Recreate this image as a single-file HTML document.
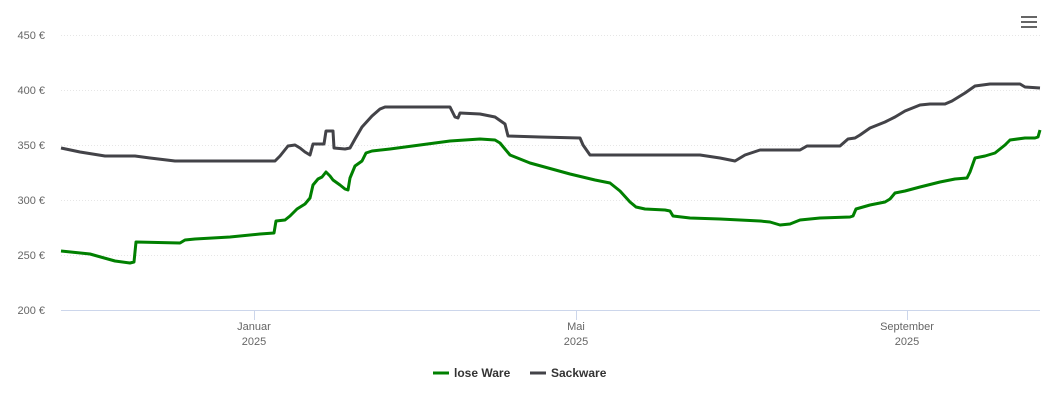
<!DOCTYPE html>
<html><head><style>
body{margin:0;background:#fff;font-family:"Liberation Sans",sans-serif}
svg text{font-family:"Liberation Sans",sans-serif}
</style></head><body>
<svg width="1050" height="400" viewBox="0 0 1050 400" xmlns="http://www.w3.org/2000/svg">
<g stroke="#e6e6e6" stroke-dasharray="1,2" stroke-width="1">
<line x1="61" x2="1040" y1="35.5" y2="35.5"/>
<line x1="61" x2="1040" y1="90.5" y2="90.5"/>
<line x1="61" x2="1040" y1="145.5" y2="145.5"/>
<line x1="61" x2="1040" y1="200.5" y2="200.5"/>
<line x1="61" x2="1040" y1="255.5" y2="255.5"/>
</g>
<line x1="61" x2="1040" y1="310.5" y2="310.5" stroke="#ccd6eb"/>
<g stroke="#ccd6eb"><line x1="254.5" x2="254.5" y1="310" y2="320"/><line x1="576.5" x2="576.5" y1="310" y2="320"/><line x1="907.5" x2="907.5" y1="310" y2="320"/></g>
<g fill="#666" font-size="11" text-anchor="end">
<text x="45" y="39">450 €</text><text x="45" y="94">400 €</text><text x="45" y="149">350 €</text>
<text x="45" y="204">300 €</text><text x="45" y="259">250 €</text><text x="45" y="314">200 €</text>
</g>
<g fill="#666" font-size="11" text-anchor="middle">
<text x="254" y="330">Januar</text><text x="254" y="345">2025</text>
<text x="576" y="330">Mai</text><text x="576" y="345">2025</text>
<text x="907" y="330">September</text><text x="907" y="345">2025</text>
</g>
<polyline fill="none" stroke="#434348" stroke-width="3" stroke-linejoin="round" points="61,148 80,152 105,156 135,156 150,158 175,161 275,161 280,156 288,146 295,145 300,148 305,152 310,155 313,144 320,144 324,144 326,131 333,131 334,148 345,149 350,148 355,139 362,127 372,116 380,109 385,107 400,107 450,107 455,117 458,118 460,113 480,114 495,117 505,124 508,136 540,137 580,138 583,145 590,155 700,155 720,158 735,161 745,155 760,150 770,150 800,150 807,146 840,146 848,139 855,138 860,135 870,128 885,122 895,117 905,111 920,105 930,104 945,104 952,101 965,93 975,86 990,84 1020,84 1025,87 1040,88"/>
<polyline fill="none" stroke="#008000" stroke-width="3" stroke-linejoin="round" points="61,251 90,254 115,261 130,263 134,262 136,242 180,243 185,240 195,239 230,237 260,234 274,233 276,221 285,220 290,216 297,209 305,204 310,198 313,185 318,179 322,177 326,172 330,176 333,180 340,185 345,189 348,190 350,178 355,166 362,161 366,153 372,151 390,149 420,145 450,141 480,139 495,140 500,143 510,155 530,163 570,174 595,180 610,183 620,191 630,202 636,207 645,209 665,210 670,211 673,216 690,218 720,219 760,221 770,222 780,225 790,224 800,220 820,218 850,217 853,216 856,209 870,205 885,202 890,199 895,193 905,191 920,187 940,182 955,179 967,178 970,172 975,158 985,156 995,153 1005,145 1010,140 1025,138 1035,138 1038,137 1040,130"/>
<g stroke="#666" stroke-width="2"><line x1="1021" x2="1037" y1="17" y2="17"/><line x1="1021" x2="1037" y1="22" y2="22"/><line x1="1021" x2="1037" y1="27" y2="27"/></g>
<line x1="433" x2="449" y1="373" y2="373" stroke="#008000" stroke-width="3"/>
<text x="454" y="377" font-size="12" font-weight="bold" fill="#333">lose Ware</text>
<line x1="530" x2="546" y1="373" y2="373" stroke="#434348" stroke-width="3"/>
<text x="551" y="377" font-size="12" font-weight="bold" fill="#333">Sackware</text>
</svg>
</body></html>
